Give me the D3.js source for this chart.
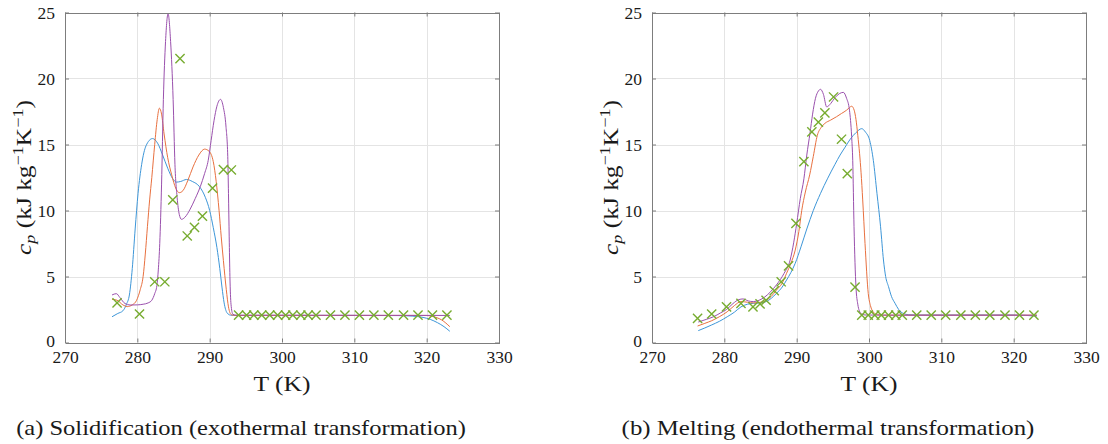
<!DOCTYPE html>
<html><head><meta charset="utf-8">
<script src="https://cdn.jsdelivr.net/npm/d3@7"></script>
<style>
body{margin:0;background:#fff}
svg{display:block}
text{font-family:"Liberation Serif","Times New Roman",serif;fill:#1a1a1a}
</style>
</head><body>
<svg id="chart" width="1108" height="444"></svg>
<script>
// ---------- data ----------
const xTicks = [270, 280, 290, 300, 310, 320, 330];
const yTicks = [0, 5, 10, 15, 20, 25];
const xDomain = [270, 330];
const yDomain = [0, 25];
const captions = ["(a) Solidification (exothermal transformation)", "(b) Melting (endothermal transformation)"];
const xTitle = "T (K)";

// (a) Solidification: [T (K), cp (kJ/kg/K)]
const solidBlue = [[276.5,1.95],[277.3,2.2],[278.0,2.4],[278.5,2.9],[278.9,3.6],[279.3,5.6],[279.7,8.6],[280.1,11.3],[280.6,13.5],[281.2,14.9],[282.1,15.45],[282.8,15.1],[283.5,14.2],[284.2,13.2],[284.9,12.4],[285.4,12.15],[286.0,12.2],[286.8,12.35],[287.6,12.2],[288.6,11.8],[289.4,11.0],[290.0,10.0],[290.5,8.7],[291.0,7.2],[291.4,5.6],[291.7,4.2],[292.0,3.0],[292.4,2.25],[292.9,2.07],[294,2.05],[300,2.05],[310,2.05],[316,2.04],[318,2.0],[319.5,1.9],[320.5,1.75],[321.5,1.5],[322.4,1.2],[323.2,0.85]];
const solidOrange = [[276.5,3.27],[277.2,3.2],[278.0,2.85],[278.6,2.72],[279.3,2.85],[279.9,3.2],[280.4,4.0],[280.8,5.0],[281.1,6.7],[281.4,8.8],[281.7,10.8],[282.0,12.5],[282.4,15.0],[282.75,16.9],[283.05,17.75],[283.35,17.3],[283.7,15.8],[284.2,14.0],[284.75,12.7],[285.3,11.7],[285.8,11.35],[286.3,11.5],[287.0,12.3],[287.7,13.3],[288.5,14.2],[289.3,14.65],[289.9,14.5],[290.5,13.7],[290.9,12.2],[291.3,10.0],[291.6,8.0],[291.9,6.2],[292.3,4.0],[292.6,2.7],[293.0,2.1],[293.6,2.05],[300,2.05],[320,2.05],[321,1.95],[322.1,1.7],[323.2,1.2]];
const solidPurple = [[276.5,3.6],[277.1,3.7],[277.6,3.4],[278.3,2.95],[279.0,2.84],[280.0,2.85],[280.8,2.9],[281.5,3.0],[282.0,3.2],[282.4,3.7],[282.7,4.3],[282.9,5.5],[283.1,7.5],[283.35,12.0],[283.6,18.4],[283.9,22.8],[284.25,24.9],[284.6,22.8],[284.95,18.4],[285.2,13.5],[285.5,11.0],[285.8,9.7],[286.1,9.33],[286.6,9.5],[287.3,10.1],[288.0,10.9],[288.7,11.8],[289.3,12.8],[289.8,13.8],[290.2,15.3],[290.6,16.8],[291.0,17.9],[291.5,18.42],[291.9,17.8],[292.25,16.4],[292.5,14.1],[292.6,11.3],[292.7,8.0],[292.8,5.0],[292.95,2.9],[293.2,2.15],[293.6,2.07],[300,2.07],[323.2,2.05]];
const solidMeasured = [[277.2,3.0],[280.3,2.16],[282.4,4.6],[283.8,4.6],[284.9,10.8],[285.9,21.5],[286.9,8.07],[287.9,8.72],[289.0,9.58],[290.4,11.7],[291.9,13.1],[293.0,13.07],[294.0,2.08],[295.1,2.08],[296.1,2.08],[297.2,2.08],[298.3,2.08],[299.4,2.08],[300.5,2.08],[301.5,2.08],[302.6,2.08],[303.6,2.08],[304.7,2.08],[306.7,2.08],[308.7,2.08],[310.7,2.08],[312.7,2.08],[314.7,2.08],[316.8,2.08],[318.8,2.08],[320.8,2.08],[322.8,2.08]];

// (b) Melting
const meltBlue = [[276.4,0.9],[277.3,1.1],[278.25,1.33],[279.3,1.6],[280.4,1.95],[281.4,2.3],[282.3,2.7],[283.2,2.9],[284.0,2.97],[285.0,3.0],[285.8,3.1],[286.5,3.35],[287.2,3.72],[288.0,4.2],[288.6,4.73],[289.2,5.3],[289.8,6.0],[290.6,7.25],[291.4,8.6],[292.3,10.0],[293.3,11.3],[294.3,12.45],[295.3,13.5],[296.0,14.2],[296.7,14.8],[297.4,15.4],[298.2,15.9],[298.99,16.2],[299.5,15.95],[300.1,15.3],[300.6,13.8],[301.1,11.3],[301.6,8.77],[302.0,6.25],[302.3,5.0],[302.7,4.23],[303.1,3.5],[303.6,2.97],[304.1,2.5],[304.75,2.2],[305.5,2.1],[306.6,2.08],[320,2.08],[323.2,2.0]];
const meltOrange = [[276.3,1.25],[277.3,1.45],[278.25,1.65],[279.3,1.95],[280.4,2.33],[281.4,2.8],[282.3,3.1],[283.2,3.05],[284.0,3.0],[285.0,3.05],[285.8,3.2],[286.5,3.5],[287.2,3.97],[288.0,4.5],[288.6,5.24],[289.2,6.0],[289.8,7.0],[290.3,8.4],[290.7,10.0],[291.2,11.4],[291.8,12.7],[292.3,14.1],[292.86,15.7],[293.4,16.3],[293.9,16.6],[294.7,16.85],[295.5,17.1],[296.2,17.35],[296.9,17.6],[297.3,17.8],[297.6,17.9],[297.95,17.6],[298.2,16.9],[298.45,15.7],[298.7,14.3],[298.9,12.9],[299.13,10.8],[299.45,7.5],[299.9,3.7],[300.2,2.8],[300.6,2.3],[301.2,2.1],[302,2.07],[323.2,2.07]];
const meltPurple = [[276.4,1.55],[277.5,1.75],[278.5,1.95],[279.5,2.25],[280.3,2.5],[281.2,2.95],[282.0,3.25],[282.6,3.3],[283.3,3.15],[284.0,3.1],[284.8,3.2],[285.6,3.45],[286.4,3.85],[287.2,4.36],[288.26,5.24],[289.1,6.25],[289.6,7.6],[290.0,9.0],[290.5,10.9],[291.0,12.4],[291.4,14.2],[291.84,15.85],[292.2,17.3],[292.6,18.5],[293.0,19.05],[293.3,19.18],[293.7,18.8],[294.15,17.85],[294.7,18.1],[295.3,18.55],[295.9,18.85],[296.45,18.95],[296.9,18.5],[297.3,17.6],[297.6,15.6],[297.75,13.8],[297.93,8.77],[298.2,4.2],[298.45,2.9],[298.66,2.4],[299.0,2.15],[299.6,2.08],[305,2.07],[323.2,2.07]];
const meltMeasured = [[276.3,1.83],[278.25,2.16],[280.3,2.7],[282.3,2.97],[283.96,2.7],[284.94,2.92],[285.77,3.2],[286.9,3.92],[287.86,4.6],[288.88,5.8],[289.9,9.03],[291.0,13.7],[292.1,15.95],[293.0,16.7],[293.9,17.4],[295.1,18.6],[296.2,15.4],[297.0,12.8],[298.07,4.2],[299.0,2.08],[299.9,2.08],[300.8,2.08],[301.7,2.08],[302.7,2.08],[303.7,2.08],[304.6,2.08],[306.6,2.08],[308.6,2.08],[310.6,2.08],[312.7,2.08],[314.7,2.08],[316.7,2.08],[318.8,2.08],[320.8,2.08],[322.8,2.08]];

// ---------- drawing ----------
const svg = d3.select("#chart");
const colors = {blue:"#3d96d8", orange:"#e8703f", purple:"#9a50ad", green:"#77ac30"};
const W = 434, TOP = 12.5, BOT = 342.5;

function stretch(sel, target){
  const w = sel.node().getComputedTextLength();
  return w > 0 ? target / w : 1;
}

function panel(left, curves, measured, caption, capCenter, capWidth){
  const x = d3.scaleLinear().domain(xDomain).range([left, left + W]);
  const y = d3.scaleLinear().domain(yDomain).range([BOT, TOP]);
  const g = svg.append("g");

  // grid
  g.append("g").selectAll("line").data(xTicks.slice(1, -1)).join("line")
    .attr("x1", d => Math.round(x(d)) + 0.5).attr("x2", d => Math.round(x(d)) + 0.5)
    .attr("y1", TOP).attr("y2", BOT).attr("stroke", "#e4e4e4").attr("stroke-width", 1);
  g.append("g").selectAll("line").data(yTicks.slice(1, -1)).join("line")
    .attr("y1", d => Math.round(y(d)) + 0.5).attr("y2", d => Math.round(y(d)) + 0.5)
    .attr("x1", left).attr("x2", left + W).attr("stroke", "#e4e4e4").attr("stroke-width", 1);

  // curves
  const line = d3.line().x(d => x(d[0])).y(d => y(d[1])).curve(d3.curveMonotoneX);
  curves.forEach(c => {
    g.append("path").attr("d", line(c.data)).attr("fill", "none")
      .attr("stroke", c.color).attr("stroke-width", 1);
  });

  // markers (x)
  const r = 4.6;
  g.append("g").selectAll("path").data(measured).join("path")
    .attr("transform", d => `translate(${x(d[0])},${y(d[1])})`)
    .attr("d", `M${-r},${-r}L${r},${r}M${-r},${r}L${r},${-r}`)
    .attr("stroke", colors.green).attr("stroke-width", 1.4).attr("fill", "none");

  // axes
  const axCol = "#7d7d7d";
  const styleAxis = a => {
    a.selectAll(".domain").attr("stroke", axCol);
    a.selectAll(".tick line").attr("stroke", axCol);
    a.selectAll("text").attr("font-size", 17.5).attr("fill", "#1a1a1a")
      .attr("font-family", '"Liberation Serif", serif');
  };
  const bottom = g.append("g").attr("transform", `translate(0,${BOT})`)
    .call(d3.axisBottom(x).tickValues(xTicks).tickSizeInner(-4).tickSizeOuter(0).tickPadding(8).tickFormat(d3.format("d")));
  styleAxis(bottom);
  const top = g.append("g").attr("transform", `translate(0,${TOP})`)
    .call(d3.axisTop(x).tickValues(xTicks).tickSizeInner(-4).tickSizeOuter(0).tickFormat(""));
  styleAxis(top);
  const leftAx = g.append("g").attr("transform", `translate(${left},0)`)
    .call(d3.axisLeft(y).tickValues(yTicks).tickSizeInner(-4).tickSizeOuter(0).tickPadding(10).tickFormat(d3.format("d")));
  styleAxis(leftAx);
  // nudge the "0" label up a touch so it clears the first x label
  leftAx.selectAll(".tick").filter(d => d === 0).select("text").attr("dy", "0.22em");
  const rightAx = g.append("g").attr("transform", `translate(${left + W},0)`)
    .call(d3.axisRight(y).tickValues(yTicks).tickSizeInner(-4).tickSizeOuter(0).tickFormat(""));
  styleAxis(rightAx);
  g.selectAll(".domain").attr("shape-rendering", "crispEdges");

  // x title
  const cx = left + W / 2;
  const xt = g.append("text").attr("text-anchor", "middle").attr("font-size", 21).text(xTitle);
  xt.attr("transform", `translate(${cx},391) scale(${stretch(xt, 57)},1)`);

  // y title
  const yt = g.append("text").attr("text-anchor", "middle").attr("font-size", 21);
  yt.append("tspan").attr("font-style", "italic").text("c");
  yt.append("tspan").attr("font-style", "italic").attr("font-size", 15).attr("dy", 4).text("p");
  yt.append("tspan").attr("dy", -4).text(" (kJ kg");
  yt.append("tspan").attr("font-size", 15).attr("dy", -8).text("−1");
  yt.append("tspan").attr("dy", 8).text("K");
  yt.append("tspan").attr("font-size", 15).attr("dy", -8).text("−1");
  yt.append("tspan").attr("dy", 8).text(")");
  yt.attr("transform", `translate(${left - 34},${(TOP + BOT) / 2}) rotate(-90) scale(${stretch(yt, 155)},1)`);

  // caption
  const ct = g.append("text").attr("text-anchor", "middle").attr("font-size", 20).text(caption);
  ct.attr("transform", `translate(${capCenter},435) scale(${stretch(ct, capWidth)},1)`);
}

panel(65, [
  {data: solidBlue, color: colors.blue},
  {data: solidOrange, color: colors.orange},
  {data: solidPurple, color: colors.purple}
], solidMeasured, captions[0], 241, 450);

panel(652, [
  {data: meltBlue, color: colors.blue},
  {data: meltOrange, color: colors.orange},
  {data: meltPurple, color: colors.purple}
], meltMeasured, captions[1], 828, 413);
</script>
</body></html>
